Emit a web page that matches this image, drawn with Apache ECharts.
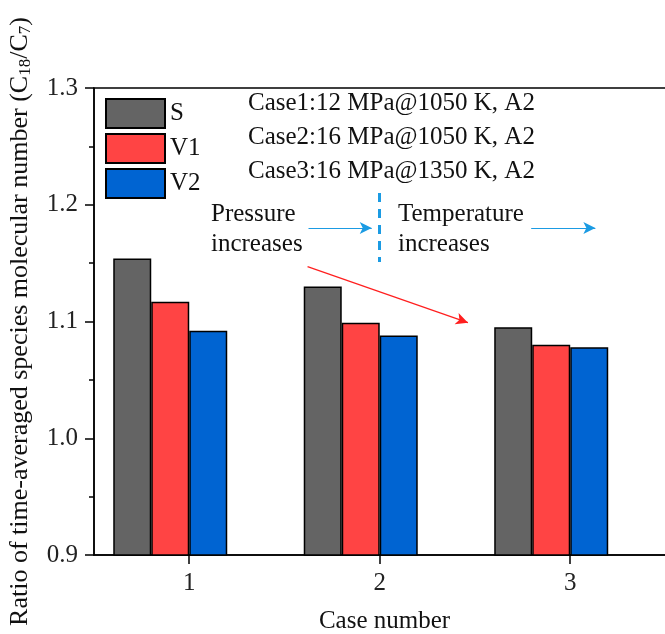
<!DOCTYPE html>
<html>
<head>
<meta charset="utf-8">
<title>C18/C7 ratio</title>
<script src="https://cdn.jsdelivr.net/npm/echarts@6/dist/echarts.min.js"></script>
<style>
  html, body { margin: 0; padding: 0; background: #fff; }
  #chart { width: 665px; height: 634px; }
</style>
</head>
<body>
<div id="chart"></div>
<script>
var FONT = '"Liberation Serif", "Times New Roman", serif';

var cases = [1, 2, 3];
var valS  = [1.154, 1.130, 1.095];
var valV1 = [1.117, 1.099, 1.080];
var valV2 = [1.092, 1.088, 1.078];
var yTicks = [0.9, 1.0, 1.1, 1.2, 1.3];

var caseNotes = [
	'Case1:12 MPa@1050 K, A2',
	'Case2:16 MPa@1050 K, A2',
	'Case3:16 MPa@1350 K, A2'
];

function pairs(vals)
{
	var out = [];
	for (var i = 0; i < cases.length; ++i)
		out.push([cases[i], vals[i]]);
	return out;
}

function bar(name, color, vals)
{
	return {
		name: name,
		type: 'bar',
		barWidth: 38,
		barGap: '0%',
		itemStyle: { color: color, borderColor: '#000', borderWidth: 1.5 },
		data: pairs(vals)
	};
}

var chart = echarts.init(document.getElementById('chart'));

var blue = '#1b9be3';

// arrows + dashed divider, in data coords, on an empty line series
// (markers on bar series get shifted by the bar offset)
var notes = {
	name: 'notes',
	type: 'line',
	data: [],
	markLine: {
		silent: true,
		symbol: ['none', 'arrow'],
		symbolSize: [9, 12],
		label: { show: false },
		animation: false,
		data: [
			[{ coord: [1.626, 1.18], lineStyle: { color: blue, width: 1.2, type: 'solid' } },
			 { coord: [1.958, 1.18] }],
			[{ coord: [2.795, 1.18], lineStyle: { color: blue, width: 1.2, type: 'solid' } },
			 { coord: [3.132, 1.18] }],
			[{ coord: [1.621, 1.147], lineStyle: { color: '#ff1f1f', width: 1.2, type: 'solid' } },
			 { coord: [2.463, 1.099] }],
			[{ coord: [2.0, 1.21], symbol: 'none', lineStyle: { color: blue, width: 3, type: [9, 7] } },
			 { coord: [2.0, 1.151], symbol: 'none' }]
		]
	}
};

var graphics = [];
for (var i = 0; i < caseNotes.length; ++i) {
	graphics.push({
		type: 'text', left: 248, top: 91 + i * 34,
		style: { text: caseNotes[i], font: '25px ' + FONT, fill: '#111' }
	});
}
graphics.push({
	type: 'text', left: 211, top: 199,
	style: { text: 'Pressure\nincreases', font: '25px ' + FONT, fill: '#111', lineHeight: 30 }
});
graphics.push({
	type: 'text', left: 398, top: 199,
	style: { text: 'Temperature\nincreases', font: '25px ' + FONT, fill: '#111', lineHeight: 30 }
});

var option = {
	animation: false,
	textStyle: { fontFamily: FONT },
	grid: {
		left: 94, right: -10, top: 88, bottom: 79,
		outerBoundsMode: 'none',
		show: true, borderColor: '#000', borderWidth: 1.5
	},
	legend: {
		data: ['S', 'V1', 'V2'],
		orient: 'vertical',
		left: 100, top: 93,
		itemWidth: 59, itemHeight: 29, itemGap: 4,
		icon: 'rect',
		selectedMode: false,
		textStyle: { fontSize: 25, fontFamily: FONT, color: '#111' }
	},
	xAxis: {
		type: 'value',
		min: 0.5, max: 3.55,
		name: 'Case number',
		nameLocation: 'middle',
		nameGap: 54,
		nameTextStyle: { fontSize: 25, fontFamily: FONT, color: '#111' },
		axisLine: { show: true, lineStyle: { color: '#000', width: 1.5 } },
		axisTick: { show: true, length: 9, customValues: cases, lineStyle: { color: '#000', width: 1.5 } },
		axisLabel: { customValues: cases, margin: 16, fontSize: 25, fontFamily: FONT, color: '#222' },
		splitLine: { show: false }
	},
	yAxis: {
		type: 'value',
		min: yTicks[0], max: yTicks[yTicks.length - 1], interval: 0.1,
		name: '{n|Ratio of time-averaged species molecular number (C}{s|18}{n|/C}{s|7}{n|)}',
		nameLocation: 'middle',
		nameGap: 60,
		nameTextStyle: {
			rich: {
				n: { fontSize: 26, fontFamily: FONT, color: '#111' },
				s: { fontSize: 17, fontFamily: FONT, color: '#111', padding: [11, 0, 0, 0] }
			}
		},
		axisLine: { show: true, lineStyle: { color: '#000', width: 1.5 } },
		axisTick: { show: true, length: 9, lineStyle: { color: '#000', width: 1.5 } },
		minorTick: { show: true, splitNumber: 2, length: 5, lineStyle: { color: '#000', width: 1.5 } },
		axisLabel: {
			margin: 16, fontSize: 25, fontFamily: FONT, color: '#222',
			formatter: function (v) { return v.toFixed(1); }
		},
		splitLine: { show: false }
	},
	graphic: graphics,
	series: [
		bar('S', '#646464', valS),
		bar('V1', '#ff4444', valV1),
		bar('V2', '#0064d2', valV2),
		{ name: 'pad', type: 'bar', barWidth: 38, barGap: '0%', data: [] },
		notes
	]
};

chart.setOption(option);
</script>
</body>
</html>
